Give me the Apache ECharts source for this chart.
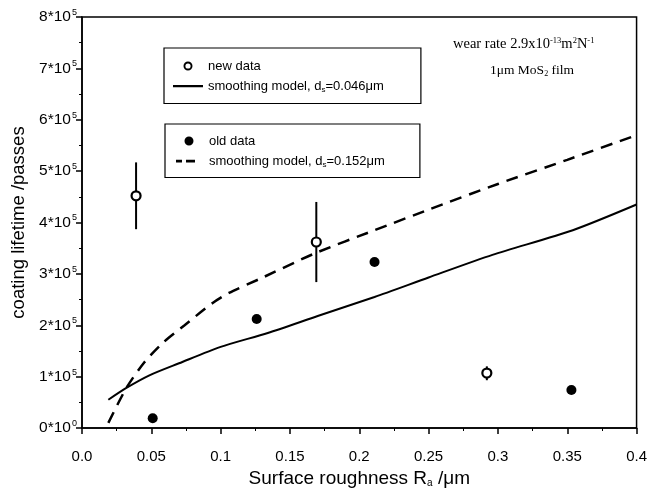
<!DOCTYPE html>
<html><head><meta charset="utf-8">
<script src="https://cdn.jsdelivr.net/npm/echarts@6/dist/echarts.min.js"></script>
<style>html,body{margin:0;padding:0;background:#fff}#c{width:650px;height:494px}</style>
</head><body><div id="c"></div>
<script>
// ---- data ----
var newX = [0.039, 0.169, 0.292];
var newY = [452000, 362000, 107000];
var newErrLow = [387000, 284000, 93000];
var newErrHigh = [517000, 440000, 120000];

var oldX = [0.051, 0.126, 0.211, 0.353];
var oldY = [19000, 212000, 323000, 74000];

var solidX = [0.019, 0.032, 0.049, 0.07, 0.1, 0.134, 0.17, 0.211, 0.25, 0.296, 0.354, 0.4];
var solidY = [55000, 78000, 103000, 126000, 158000, 185000, 218000, 255000, 293000, 337000, 385000, 435000];

var dashX = [0.019, 0.032, 0.045, 0.058, 0.074, 0.094, 0.106, 0.128, 0.168, 0.211, 0.25, 0.3, 0.35, 0.4];
var dashY = [10000, 78000, 128000, 165000, 200000, 243000, 263000, 290000, 340000, 385000, 425000, 475000, 522000, 570000];

var xTicks = ['0.0', '0.05', '0.1', '0.15', '0.2', '0.25', '0.3', '0.35', '0.4'];
var yTickMantissa = ['0', '1', '2', '3', '4', '5', '6', '7', '8'];
var yTickExp = ['0', '5', '5', '5', '5', '5', '5', '5', '5'];

var nameNew = 'new data';
var nameSolid = 'smoothing model, d_s=0.046μm';
var nameOld = 'old data';
var nameDash = 'smoothing model, d_s=0.152μm';

function zip(a, b) { return a.map(function (v, i) { return [v, b[i]]; }); }

var F = 'Liberation Sans, Arial, Helvetica, sans-serif';
var SERIF = 'Liberation Serif, Times New Roman, serif';

var chart = echarts.init(document.getElementById('c'), null, {renderer: 'canvas'});

function legendFmt(n) {
  if (n.indexOf('d_s') >= 0) {
    var p = n.split('d_s');
    return '{a|' + p[0] + 'd}{s|s}{a|' + p[1] + '}';
  }
  return '{a|' + n + '}';
}
var legendRich = {
  a: {fontFamily: F, fontSize: 13, color: '#000'},
  s: {fontFamily: F, fontSize: 8, color: '#000', verticalAlign: 'bottom', padding: [7, 0, 0, 0]}
};
// legend samples (zero-area points at the box corners keep the sample at its true size)
var BOX = 'M0,0L0.01,0ZM0,14L0.01,14ZM30,7L30.01,7Z';
var ICON_SOLID = 'path://' + BOX + 'M0,6H30V8.2H0Z';
var ICON_DASH = 'path://' + BOX + 'M2,5.8H8V8.4H2ZM12,5.8H21V8.4H12Z';
var ICON_RING = 'path://' + BOX + 'M10.5,7A4.5,4.5 0 1,0 19.5,7A4.5,4.5 0 1,0 10.5,7ZM12.4,7A2.6,2.6 0 1,1 17.6,7A2.6,2.6 0 1,1 12.4,7Z';
var ICON_DOT = 'path://' + BOX + 'M10.5,7A4.5,4.5 0 1,0 19.5,7A4.5,4.5 0 1,0 10.5,7Z';
var ICON_STYLE = {color: '#000', borderWidth: 0};

var option = {
  animation: false,
  backgroundColor: '#fff',
  grid: {left: 82, right: 8, top: 17, bottom: 66, show: true, borderColor: '#000', borderWidth: 1.5, backgroundColor: 'transparent'},
  xAxis: {
    type: 'value', min: 0, max: 0.4, interval: 0.05,
    axisLine: {show: true, lineStyle: {color: '#000', width: 1.5}},
    axisTick: {show: true, inside: false, length: 6, lineStyle: {color: '#000', width: 1.5}},
    minorTick: {show: true, splitNumber: 2, length: 3, lineStyle: {color: '#000', width: 1}},
    splitLine: {show: false},
    axisLabel: {
      color: '#000', fontFamily: F, fontSize: 15, margin: 21,
      formatter: function (v) { return xTicks[Math.round(v / 0.05)]; }
    },
    name: '{a|Surface roughness R}{s|a}{a| /μm}',
    nameLocation: 'middle', nameGap: 41,
    nameTextStyle: {
      rich: {
        a: {fontFamily: F, fontSize: 19, color: '#000'},
        s: {fontFamily: F, fontSize: 10, color: '#000', verticalAlign: 'bottom', padding: [9, 0, 0, 0]}
      }
    }
  },
  yAxis: {
    type: 'value', min: 0, max: 800000, interval: 100000,
    axisLine: {show: true, lineStyle: {color: '#000', width: 1.5}},
    axisTick: {show: true, inside: false, length: 6, lineStyle: {color: '#000', width: 1.5}},
    minorTick: {show: true, splitNumber: 2, length: 3, lineStyle: {color: '#000', width: 1}},
    splitLine: {show: false},
    axisLabel: {
      margin: 5,
      formatter: function (v) {
        var i = Math.round(v / 100000);
        return '{a|' + yTickMantissa[i] + '*10}{s|' + yTickExp[i] + '}';
      },
      rich: {
        a: {fontFamily: F, fontSize: 15.5, color: '#000'},
        s: {fontFamily: F, fontSize: 9, color: '#000', verticalAlign: 'top', padding: [0, 0, 9, 1]}
      }
    },
    name: 'coating lifetime /passes',
    nameLocation: 'middle', nameGap: 53,
    nameTextStyle: {fontFamily: F, fontSize: 18.5, color: '#000'}
  },
  legend: [
    {
      data: [{name: nameNew, icon: ICON_RING, itemStyle: ICON_STYLE},
             {name: nameSolid, icon: ICON_SOLID, itemStyle: ICON_STYLE}],
      orient: 'vertical', left: 164, top: 48,
      borderColor: '#000', borderWidth: 1.2, padding: [11, 37, 10, 9],
      itemWidth: 30, itemHeight: 14, itemGap: 6,
      formatter: legendFmt, textStyle: {rich: legendRich}
    },
    {
      data: [{name: nameOld, icon: ICON_DOT, itemStyle: ICON_STYLE},
             {name: nameDash, icon: ICON_DASH, itemStyle: ICON_STYLE}],
      orient: 'vertical', left: 165, top: 124,
      borderColor: '#000', borderWidth: 1.2, padding: [10, 35, 9, 9],
      itemWidth: 30, itemHeight: 14, itemGap: 6,
      formatter: legendFmt, textStyle: {rich: legendRich}
    }
  ],
  graphic: [
    {
      type: 'text', left: 453, top: 36,
      style: {
        text: '{t|wear rate 2.9x10}{p|-13}{t|m}{p|2}{t|N}{p|-1}',
        rich: {
          t: {fontFamily: SERIF, fontSize: 14.5, fill: '#000'},
          p: {fontFamily: SERIF, fontSize: 8.5, fill: '#000', verticalAlign: 'top', padding: [0, 0, 7, 0]}
        }
      }
    },
    {
      type: 'text', left: 490, top: 63,
      style: {
        text: '{t|1μm MoS}{b|2}{t| film}',
        rich: {
          t: {fontFamily: SERIF, fontSize: 13.5, fill: '#000'},
          b: {fontFamily: SERIF, fontSize: 8, fill: '#000', verticalAlign: 'bottom', padding: [7, 0, 0, 0]}
        }
      }
    }
  ],
  series: [
    {
      name: nameSolid, type: 'line', data: zip(solidX, solidY), showSymbol: false, symbol: 'none',
      smooth: 0.25, lineStyle: {color: '#000', width: 2, type: 'solid'}, itemStyle: {color: '#000'}, z: 2
    },
    {
      name: nameDash, type: 'line', data: zip(dashX, dashY), showSymbol: false, symbol: 'none',
      smooth: 0.25, lineStyle: {color: '#000', width: 2.5, type: [12, 8]}, itemStyle: {color: '#000'}, z: 2
    },
    {
      name: 'errbars', type: 'custom',
      data: newX.map(function (x, i) { return [x, newErrLow[i], newErrHigh[i]]; }),
      renderItem: function (params, api) {
        var p1 = api.coord([api.value(0), api.value(1)]);
        var p2 = api.coord([api.value(0), api.value(2)]);
        return {type: 'line', shape: {x1: p1[0], y1: p1[1], x2: p2[0], y2: p2[1]},
                style: {stroke: '#000', lineWidth: 2}};
      },
      z: 3, silent: true
    },
    {
      name: nameNew, type: 'scatter', data: zip(newX, newY), symbol: 'circle', symbolSize: 9,
      itemStyle: {color: '#fff', borderColor: '#000', borderWidth: 2.2, opacity: 1}, z: 5
    },
    {
      name: nameOld, type: 'scatter', data: zip(oldX, oldY), symbol: 'circle', symbolSize: 10,
      itemStyle: {color: '#000', opacity: 1}, z: 5
    }
  ]
};
chart.setOption(option);
</script>
</body></html>
